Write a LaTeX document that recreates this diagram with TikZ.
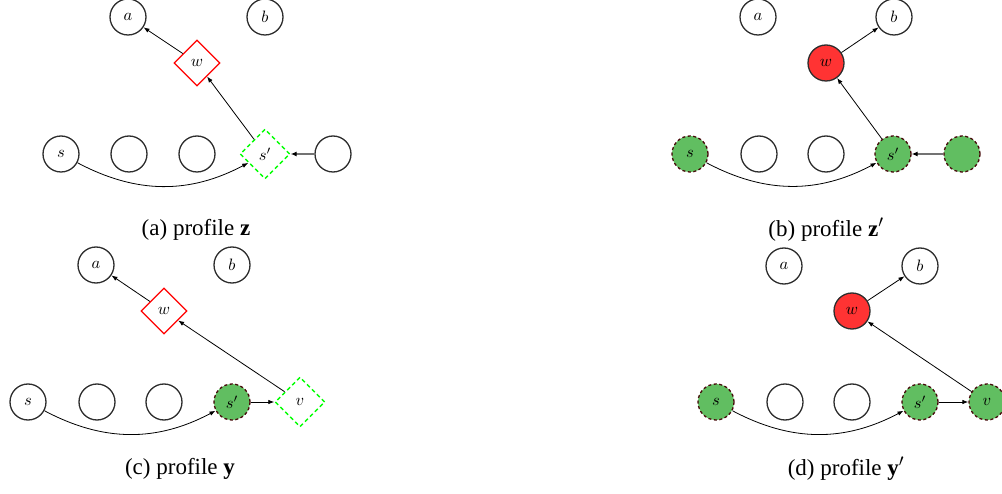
\documentclass[tikz,border=0pt]{standalone}
\usepackage{graphicx}
\usepackage{fontspec}
\newfontfamily\capfont{Liberation Serif}
\usetikzlibrary{shapes.geometric,arrows.meta}
\definecolor{gfill}{RGB}{97,190,97}
\definecolor{rfill}{RGB}{255,51,51}
\definecolor{dborder}{RGB}{70,10,10}
\definecolor{nborder}{RGB}{45,45,45}
\newcommand\nlbl[1]{\scalebox{1.65}{$#1$}}
\begin{document}
\begin{tikzpicture}[x=1pt,y=-1pt,
  plain/.style={circle,draw=nborder,line width=1.3pt,minimum size=36pt,inner sep=0pt},
  reddia/.style={diamond,draw=red,line width=1.3pt,minimum size=46pt,inner sep=0pt},
  greendia/.style={diamond,draw=green,dashed,dash pattern=on 4pt off 3pt,line width=1.4pt,minimum size=50pt,inner sep=0pt},
  greencirc/.style={circle,fill=gfill,draw=dborder,dash pattern=on 3pt off 2.5pt,line width=1.3pt,minimum size=36pt,inner sep=0pt},
  redcirc/.style={circle,fill=rfill,draw=nborder,line width=1.3pt,minimum size=36pt,inner sep=0pt},
  arr/.style={-{Latex[length=6pt,width=4.5pt]},line width=0.8pt,black},
  garr/.style={-{Latex[length=6pt,width=5pt,black]},line width=1.6pt,black!55},
  captext/.style={font=\capfont\fontsize{23}{27}\selectfont}]
\useasboundingbox (0,0) rectangle (1002,494);
% ---- panel (a)
\node[plain] (a1) at (128,17) {\nlbl{a}};
\node[plain] (b1) at (265,17) {\nlbl{b}};
\node[reddia] (w1) at (197,63) {\nlbl{w}};
\node[plain] (s1) at (61,154) {\nlbl{s}};
\node[plain] (c1a) at (129,154) {};
\node[plain] (c1b) at (197,154) {};
\node[greendia] (sp1) at (265,154) {\nlbl{s'}};
\node[plain] (c1c) at (333,154) {};
\draw[arr] (w1) -- (a1);
\draw[arr] (sp1) -- (w1);
\draw[garr] (c1c) -- (sp1);
\draw[arr] (s1) to[out=-28,in=-152] (sp1);
\node[captext] (capa) at (196,230) {(a) profile \textbf{z}};
% ---- panel (b)
\node[plain] (a2) at (758,17) {\nlbl{a}};
\node[plain] (b2) at (894,17) {\nlbl{b}};
\node[redcirc] (w2) at (826,63) {\nlbl{w}};
\node[greencirc] (s2) at (690,154) {\nlbl{s}};
\node[plain] (c2a) at (759,154) {};
\node[plain] (c2b) at (826,154) {};
\node[greencirc] (sp2) at (893,154) {\nlbl{s'}};
\node[greencirc] (c2c) at (962,154) {};
\draw[arr] (w2) -- (b2);
\draw[arr] (sp2) -- (w2);
\draw[garr] (c2c) -- (sp2);
\draw[arr] (s2) to[out=-28,in=-152] (sp2);
\node[captext] (capb) at (826,230) {(b) profile \textbf{z}$'$};
% ---- panel (c)
\node[plain] (a3) at (96,265) {\nlbl{a}};
\node[plain] (b3) at (232,265) {\nlbl{b}};
\node[reddia] (w3) at (164,311) {\nlbl{w}};
\node[plain] (s3) at (28,402) {\nlbl{s}};
\node[plain] (c3a) at (97,402) {};
\node[plain] (c3b) at (164,402) {};
\node[greencirc] (sp3) at (232,402) {\nlbl{s'}};
\node[greendia] (v3) at (300,402) {\nlbl{v}};
\draw[arr] (w3) -- (a3);
\draw[arr] (v3) -- (w3);
\draw[arr] (sp3) -- (v3);
\draw[arr] (s3) to[out=-28,in=-152] (sp3);
\node[captext] (capc) at (180,469) {(c) profile \textbf{y}};
% ---- panel (d)
\node[plain] (a4) at (784,266) {\nlbl{a}};
\node[plain] (b4) at (920,266) {\nlbl{b}};
\node[redcirc] (w4) at (852,311) {\nlbl{w}};
\node[greencirc] (s4) at (716,402) {\nlbl{s}};
\node[plain] (c4a) at (785,402) {};
\node[plain] (c4b) at (852,402) {};
\node[greencirc] (sp4) at (920,402) {\nlbl{s'}};
\node[greencirc] (v4) at (987,402) {\nlbl{v}};
\draw[arr] (w4) -- (b4);
\draw[arr] (v4) -- (w4);
\draw[arr] (sp4) -- (v4);
\draw[arr] (s4) to[out=-28,in=-152] (sp4);
\node[captext] (capd) at (846,469) {(d) profile \textbf{y}$'$};
\end{tikzpicture}
\end{document}
